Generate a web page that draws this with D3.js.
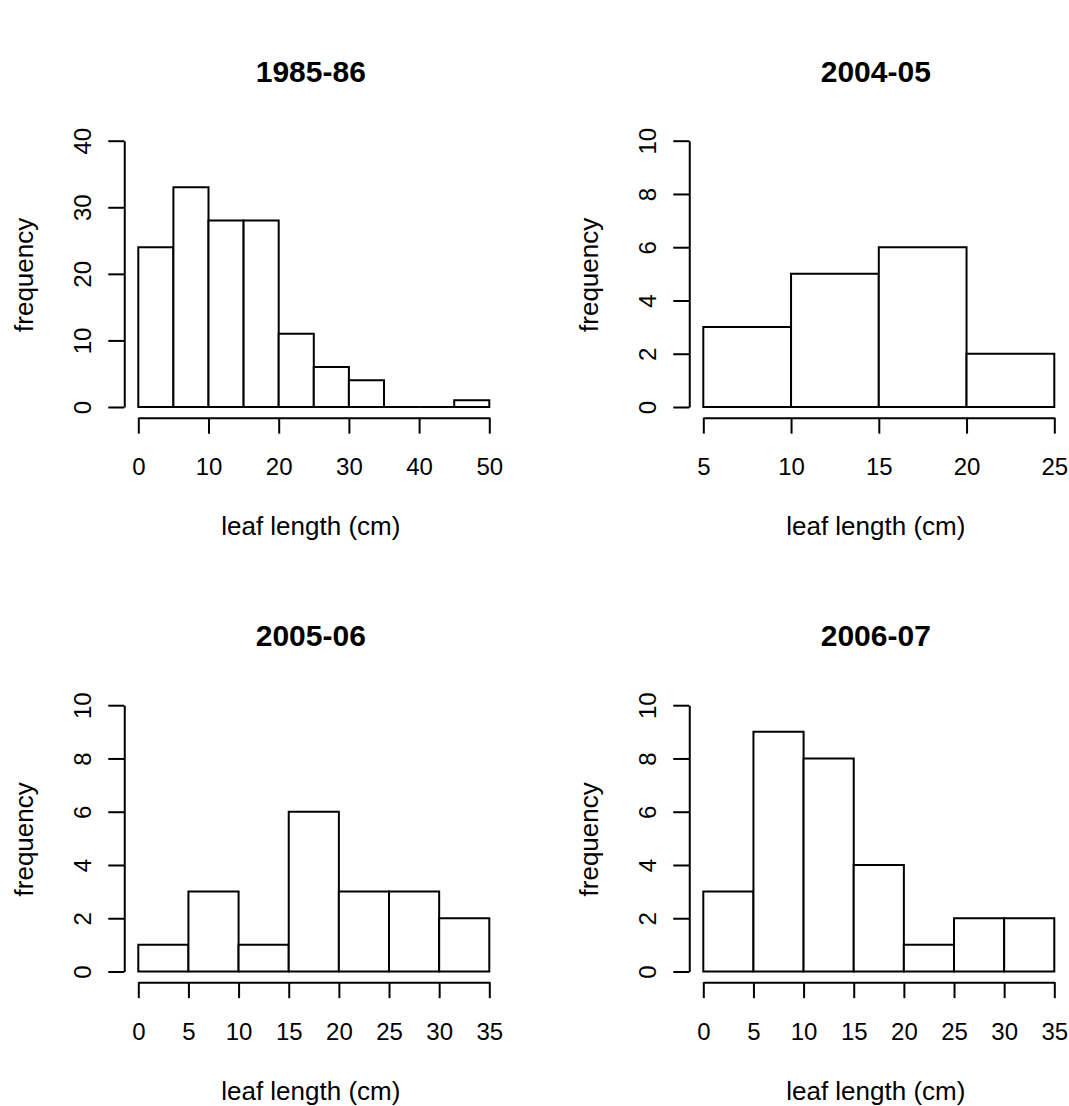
<!DOCTYPE html>
<html>
<head>
<meta charset="utf-8">
<script src="https://cdn.jsdelivr.net/npm/d3@7"></script>
<style>
  body { margin: 0; background: #fff; }
  svg text { font-family: "Liberation Sans", Arial, sans-serif; fill: #000; }
</style>
</head>
<body>
<script>
// panel titles (seasons)
const titles = ["1985-86", "2004-05", "2005-06", "2006-07"];

// bin edges of each histogram
const breaks1985 = [0, 5, 10, 15, 20, 25, 30, 35, 40, 45, 50];
const breaks2004 = [5, 10, 15, 20, 25];
const breaks2005 = [0, 5, 10, 15, 20, 25, 30, 35];
const breaks2006 = [0, 5, 10, 15, 20, 25, 30, 35];

// counts per bin
const counts1985 = [24, 33, 28, 28, 11, 6, 4, 0, 0, 1];
const counts2004 = [3, 5, 6, 2];
const counts2005 = [1, 3, 1, 6, 3, 3, 2];
const counts2006 = [3, 9, 8, 4, 1, 2, 2];

// tick labels
const xTicks1985 = [0, 10, 20, 30, 40, 50];
const xTicks2004 = [5, 10, 15, 20, 25];
const xTicks2005 = [0, 5, 10, 15, 20, 25, 30, 35];
const xTicks2006 = [0, 5, 10, 15, 20, 25, 30, 35];
const yTicks1985 = [0, 10, 20, 30, 40];
const yTicksSmall = [0, 2, 4, 6, 8, 10];

const xLabel = "leaf length (cm)";
const yLabel = "frequency";

const width = 1069;
const height = 1106;

const panels = [
  { title: titles[0], breaks: breaks1985, counts: counts1985, xTicks: xTicks1985, yTicks: yTicks1985 },
  { title: titles[1], breaks: breaks2004, counts: counts2004, xTicks: xTicks2004, yTicks: yTicksSmall },
  { title: titles[2], breaks: breaks2005, counts: counts2005, xTicks: xTicks2005, yTicks: yTicksSmall },
  { title: titles[3], breaks: breaks2006, counts: counts2006, xTicks: xTicks2006, yTicks: yTicksSmall }
];

const svg = d3.select("body")
  .append("svg")
  .attr("width", width)
  .attr("height", height);

svg.append("rect")
  .attr("width", width)
  .attr("height", height)
  .attr("fill", "#fff");

// layout of the 2x2 grid (R mfrow style)
const plotW = 351;      // data range width in px
const plotH = 266.3;    // 0 .. max tick in px
const colStep = 565;
const rowStep = 564.5;

panels.forEach((p, i) => {
  const col = i % 2;
  const row = Math.floor(i / 2);
  const left = 138.3 + col * colStep;
  const right = left + plotW;
  const base = 407 + row * rowStep;
  const top = base - plotH;
  const padX = plotW * 0.04;
  const padY = plotH * 0.04;

  const x = d3.scaleLinear()
    .domain([p.breaks[0], p.breaks[p.breaks.length - 1]])
    .range([left, right]);
  const y = d3.scaleLinear()
    .domain([0, p.yTicks[p.yTicks.length - 1]])
    .range([base, top]);

  const bins = p.counts.map((c, k) => ({ x0: p.breaks[k], x1: p.breaks[k + 1], n: c }));

  const g = svg.append("g");

  // bars as closed paths so empty bins still show their baseline
  g.selectAll("path.bar")
    .data(bins)
    .enter()
    .append("path")
    .attr("class", "bar")
    .attr("d", d => `M${x(d.x0)},${y(0)}V${y(d.n)}H${x(d.x1)}V${y(0)}Z`)
    .attr("fill", "#fff")
    .attr("stroke", "#000")
    .attr("stroke-width", 2);

  // y axis
  const yAxis = g.append("g")
    .attr("transform", `translate(${left - padX},0)`)
    .call(d3.axisLeft(y).tickValues(p.yTicks).tickSize(16).tickSizeOuter(0).tickFormat(d3.format("d")));
  yAxis.selectAll("path, line").attr("stroke", "#000").attr("stroke-width", 2);
  yAxis.selectAll("text")
    .attr("transform", "rotate(-90)")
    .attr("x", 0)
    .attr("y", -33.5)
    .attr("dy", null)
    .attr("text-anchor", "middle")
    .style("font-size", "24px");

  // x axis
  const xAxis = g.append("g")
    .attr("transform", `translate(0,${base + padY})`)
    .call(d3.axisBottom(x).tickValues(p.xTicks).tickSize(16).tickSizeOuter(0).tickFormat(d3.format("d")));
  xAxis.selectAll("path, line").attr("stroke", "#000").attr("stroke-width", 2);
  xAxis.selectAll("text")
    .attr("y", 57.5)
    .attr("dy", null)
    .attr("text-anchor", "middle")
    .style("font-size", "24px");

  const cx = (left + right) / 2 - 3;

  // title
  g.append("text")
    .attr("x", cx)
    .attr("y", base - 325.3)
    .attr("text-anchor", "middle")
    .style("font-size", "30px")
    .style("font-weight", "bold")
    .text(p.title);

  // axis titles
  g.append("text")
    .attr("x", cx)
    .attr("y", base + 128)
    .attr("text-anchor", "middle")
    .style("font-size", "26px")
    .text(xLabel);

  g.append("text")
    .attr("transform", `translate(${left - 105.8},${(top + base) / 2 + 1}) rotate(-90)`)
    .attr("text-anchor", "middle")
    .style("font-size", "26px")
    .text(yLabel);
});
</script>
</body>
</html>
